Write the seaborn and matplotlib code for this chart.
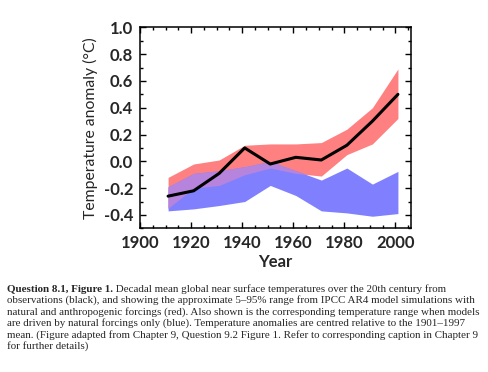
import numpy as np
import pandas as pd
import matplotlib
matplotlib.use("Agg")
import matplotlib.pyplot as plt
from matplotlib.ticker import MultipleLocator
import seaborn as sns

# ---- data ----
years = [1911, 1921, 1931, 1941, 1951, 1961, 1971, 1981, 1991, 2001]
observed = [-0.26, -0.22, -0.09, 0.10, -0.02, 0.03, 0.01, 0.12, 0.30, 0.50]
all_forcing_hi = [-0.12, -0.02, 0.01, 0.12, 0.13, 0.13, 0.14, 0.24, 0.40, 0.69]
all_forcing_lo = [-0.35, -0.20, -0.18, -0.10, -0.05, -0.09, -0.11, 0.05, 0.13, 0.32]
natural_hi = [-0.19, -0.09, -0.07, -0.04, 0.00, -0.07, -0.14, -0.05, -0.17, -0.075]
natural_lo = [-0.37, -0.355, -0.33, -0.30, -0.18, -0.255, -0.37, -0.385, -0.41, -0.39]

xticks = [1900, 1920, 1940, 1960, 1980, 2000]
yticks = [-0.4, -0.2, 0.0, 0.2, 0.4, 0.6, 0.8, 1.0]

caption_bold = "Question 8.1, Figure 1."
caption_lines = [
    " Decadal mean global near surface temperatures over the 20th century from",
    "observations (black), and showing the approximate 5\u201395% range from IPCC AR4 model simulations with",
    "natural and anthropogenic forcings (red). Also shown is the corresponding temperature range when models",
    "are driven by natural forcings only (blue). Temperature anomalies are centred relative to the 1901\u20131997",
    "mean. (Figure adapted from Chapter 9, Question 9.2 Figure 1. Refer to corresponding caption in Chapter 9",
    "for further details)",
]

df = pd.DataFrame({"Year": years, "Observed": observed})

sns.set_style("ticks")
plt.rcParams["font.family"] = ["Lato", "DejaVu Sans"]

W, H = 489, 372
fig = plt.figure(figsize=(W / 100, H / 100), dpi=100)
ax = fig.add_axes([140 / W, 1 - 228.3 / H, (410.7 - 140) / W, (228.3 - 27.4) / H])

red = "#ff8080"
blue = "#8080ff"
purple = "#b684dc"

x = np.array(years, dtype=float)
rlo, rhi = np.array(all_forcing_lo), np.array(all_forcing_hi)
blo, bhi = np.array(natural_lo), np.array(natural_hi)
ax.fill_between(x, rlo, rhi, color=red, lw=0, zorder=1)
ax.fill_between(x, blo, bhi, color=blue, lw=0, zorder=2)
olo, ohi = np.maximum(rlo, blo), np.minimum(rhi, bhi)
ax.fill_between(x, olo, ohi, where=ohi > olo, interpolate=True, color=purple, lw=0, zorder=3)

sns.lineplot(data=df, x="Year", y="Observed", ax=ax, color="black", lw=2.2, zorder=5)

ax.set_xlim(1900, 2006)
ax.set_ylim(-0.5, 1.0)
ax.set_xticks(xticks)
ax.set_yticks(yticks)
ax.set_yticklabels([f"{v:.1f}" for v in yticks])
ax.xaxis.set_minor_locator(MultipleLocator(5))
ax.yaxis.set_minor_locator(MultipleLocator(0.1))
ax.tick_params(which="both", direction="in", top=True, right=True, width=1, color="black")
ax.tick_params(which="major", length=4, labelsize=12, pad=5)
ax.tick_params(which="minor", length=2.5)
for lab in ax.get_xticklabels() + ax.get_yticklabels():
    lab.set_fontweight("bold")
for s in ax.spines.values():
    s.set_linewidth(1.1)
    s.set_color("black")

ax.set_xlabel("Year", fontsize=12, fontweight="bold", labelpad=2)
ax.set_ylabel("Temperature anomaly (\u00b0C)", fontsize=11.3, labelpad=4)

# caption
cap_font = dict(family=["Liberation Serif", "DejaVu Serif"], fontsize=7.95)
centers = [289, 300.5, 312, 323.5, 335, 346.5]
x0 = 7 / W
fig.canvas.draw()
renderer = fig.canvas.get_renderer()
tb = fig.text(x0, 1 - centers[0] / H, caption_bold, fontweight="bold", va="center", ha="left", **cap_font)
bb = tb.get_window_extent(renderer=renderer)
fig.text(bb.x1 / W, 1 - centers[0] / H, caption_lines[0], va="center", ha="left", **cap_font)
for yc, line in zip(centers[1:], caption_lines[1:]):
    fig.text(x0, 1 - yc / H, line, va="center", ha="left", **cap_font)

fig.savefig("out.png", dpi=100)
